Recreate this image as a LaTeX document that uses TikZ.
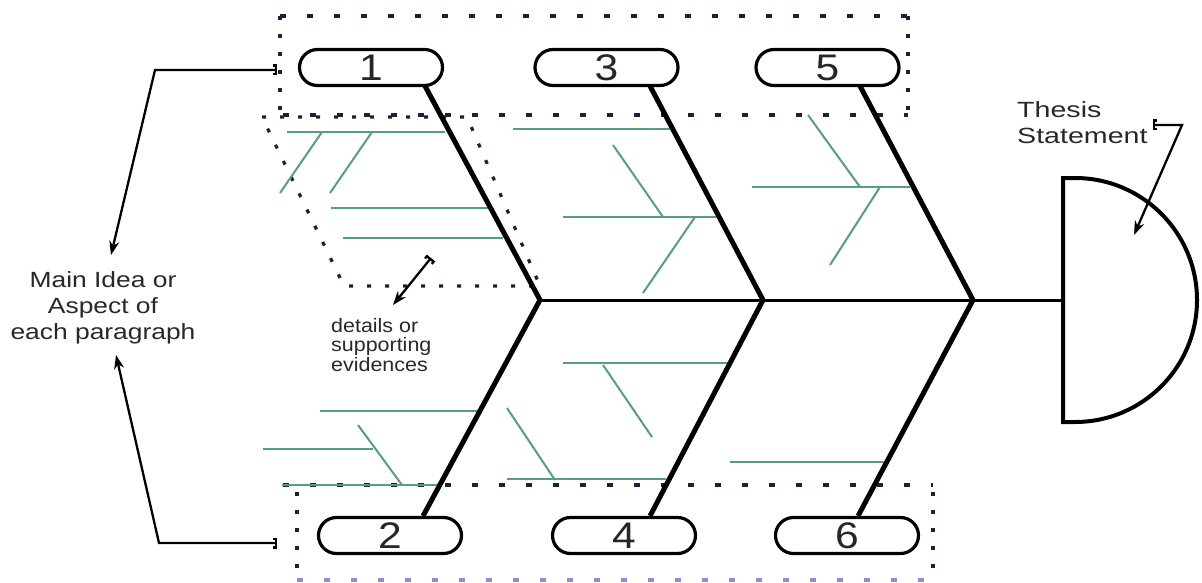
\documentclass[tikz,border=0pt]{standalone}
\usepackage{fontspec}
\setmainfont{Liberation Sans}
\usepackage{graphicx}
\usetikzlibrary{arrows.meta}
\definecolor{fish}{RGB}{85,158,128}
\definecolor{dotcol}{RGB}{30,30,65}
\definecolor{txt}{RGB}{40,40,40}
\definecolor{lav}{RGB}{140,140,225}
\begin{document}
\begin{tikzpicture}[x=1pt,y=-1pt,
  numbox/.style={draw=black, fill=white, line width=3.2pt, rounded corners=18pt,
    minimum width=143pt, minimum height=36pt, inner sep=0pt, text=black!85,
    font=\fontsize{37}{37}\selectfont},
  bone/.style={line width=5pt, line join=miter},
  rib/.style={draw=fish, line width=2pt},
  dashline/.style={draw=dotcol, line width=3.5pt, dash pattern=on 6pt off 21pt},
  dotline/.style={draw=dotcol, line width=3.2pt, dash pattern=on 4pt off 14pt},
  conn/.style={line width=2.3pt, {Bracket[width=11pt,length=3pt]}-{Stealth[length=14pt,width=10pt]}},
  lbl/.style={text=txt, inner sep=0pt}
]
\useasboundingbox (0,0) rectangle (1202,583);

% dotted / dashed regions
\draw[dashline] (280,16) -- (908,16);
\draw[dotline] (280,16) -- (280,112);
\draw[dotline] (908,16) -- (908,112);
\draw[dashline] (283,115) -- (908,115);
\draw[dotline] (262,117) -- (467,117) -- (540,286) -- (344,286) -- cycle;
\draw[dashline] (283,485) -- (933,485);
\draw[dotline] (297,492) -- (297,580);
\draw[dotline] (933,492) -- (933,580);
\draw[dashline, draw=lav] (297,580) -- (933,580);

% green detail ribs
\draw[rib] (287,132) -- (445,132);
\draw[rib] (322,132) -- (280,193);
\draw[rib] (372,132) -- (330,193);
\draw[rib] (331,208) -- (488,208);
\draw[rib] (343,238) -- (503,238);
\draw[rib] (513,129) -- (670,129);
\draw[rib] (613,145) -- (663,217);
\draw[rib] (563,217) -- (717,217);
\draw[rib] (695,217) -- (643,293);
\draw[rib] (808,115) -- (860,187);
\draw[rib] (752,187) -- (910,187);
\draw[rib] (880,187) -- (830,265);
\draw[rib] (320,411) -- (478,411);
\draw[rib] (263,449) -- (373,449);
\draw[rib] (358,425) -- (402,485);
\draw[rib] (282,485) -- (437,485);
\draw[rib] (563,363) -- (729,363);
\draw[rib] (603,365) -- (652,437);
\draw[rib] (507,408) -- (555,480);
\draw[rib] (507,479) -- (666,479);
\draw[rib] (730,462) -- (885,462);

% skeleton coordinates
\coordinate (s1) at (425,86);
\coordinate (s3) at (650,86);
\coordinate (s5) at (860,86);
\coordinate (j1) at (540,300);
\coordinate (j2) at (763,300);
\coordinate (j3) at (973,300);
\coordinate (e2) at (423,516);
\coordinate (e4) at (650,516);
\coordinate (e6) at (858,516);
\coordinate (dl) at (1063,300);

\draw[line width=3pt] (j1) -- (dl);
\draw[bone] (s1) -- (j1) -- (e2);
\draw[bone] (s3) -- (j2) -- (e4);
\draw[bone] (s5) -- (j3) -- (e6);

% head
\draw[line width=4pt, line join=miter] (1063,178) -- (1075,178)
  .. controls (1142.4,178) and (1197,232.6) .. (1197,300)
  .. controls (1197,367.4) and (1142.4,422) .. (1075,422) -- (1063,422) -- cycle;

% numbered boxes
\node[numbox] (b1) at (371,67.5) {\scalebox{1.15}[1]{1}};
\node[numbox] (b3) at (606.5,67.5) {\scalebox{1.15}[1]{3}};
\node[numbox] (b5) at (827.5,67.5) {\scalebox{1.15}[1]{5}};
\node[numbox] (b2) at (390,535.5) {\scalebox{1.15}[1]{2}};
\node[numbox] (b4) at (624,535.5) {\scalebox{1.15}[1]{4}};
\node[numbox] (b6) at (847,535.5) {\scalebox{1.15}[1]{6}};

% labels
\node[lbl, anchor=base] (mi1) at (103,287) {\fontsize{22}{26}\selectfont\scalebox{1.2}[1]{Main Idea or}};
\node[lbl, anchor=base] (mi2) at (103,313) {\fontsize{22}{26}\selectfont\scalebox{1.2}[1]{Aspect of}};
\node[lbl, anchor=base] (mi3) at (103,339) {\fontsize{22}{26}\selectfont\scalebox{1.2}[1]{each paragraph}};

\node[lbl, anchor=base west] (th1) at (1017,118) {\fontsize{22}{26}\selectfont\scalebox{1.3}[1]{Thesis}};
\node[lbl, anchor=base west] (th2) at (1017,144) {\fontsize{22}{26}\selectfont\scalebox{1.3}[1]{Statement}};

\node[lbl, anchor=base west] (de1) at (331,332) {\fontsize{19.5}{20}\selectfont\scalebox{1.1}[1]{details or}};
\node[lbl, anchor=base west] (de2) at (331,351) {\fontsize{19.5}{20}\selectfont\scalebox{1.1}[1]{supporting}};
\node[lbl, anchor=base west] (de3) at (331,371) {\fontsize{19.5}{20}\selectfont\scalebox{1.1}[1]{evidences}};

% connectors
\coordinate (t1) at (277,70);
\coordinate (k1) at (155,70);
\coordinate (a1) at (111,255);
\coordinate (t2) at (277,543);
\coordinate (k2) at (159,543);
\coordinate (a2) at (116,355);
\coordinate (t3) at (1153,125);
\coordinate (k3) at (1182,125);
\coordinate (a3) at (1134,235);
\coordinate (t4) at (431,258);
\coordinate (a4) at (393,305);

\draw[conn] (t1) -- (k1) -- (a1);
\draw[conn] (t2) -- (k2) -- (a2);
\draw[conn] (t3) -- (k3) -- (a3);
\draw[conn] (t4) -- (a4);
\end{tikzpicture}
\end{document}
